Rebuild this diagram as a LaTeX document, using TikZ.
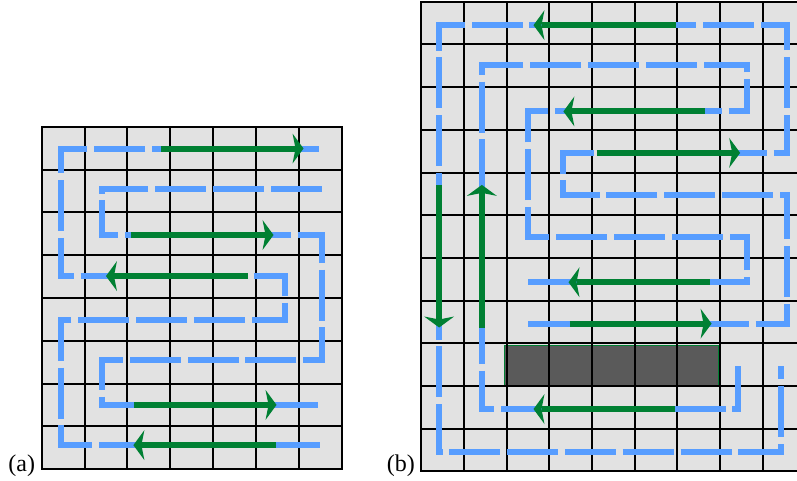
\documentclass[tikz,border=0pt]{standalone}
\usepackage{fontspec}
\setmainfont{Liberation Serif}
\usetikzlibrary{arrows.meta}
\definecolor{cellgray}{RGB}{226,226,226}
\definecolor{pathblue}{RGB}{87,157,255}
\definecolor{arrowgreen}{RGB}{0,128,51}
\definecolor{blockgray}{RGB}{90,90,90}
\tikzset{
  gridline/.style={line width=2pt, black},
  bluepath/.style={pathblue, line width=6pt, dash pattern=on 51pt off 6.8pt, line join=miter},
  greenarrow/.style={arrowgreen, line width=6pt, -{Stealth[length=11pt, width=30pt, inset=3pt, line width=0pt]}},
  captiontext/.style={font=\fontsize{24}{28}\selectfont, anchor=base west, inner sep=0pt}
}
\begin{document}
\begin{tikzpicture}[x=1pt,y=-1pt]
\useasboundingbox (0,0) rectangle (797,480);
\clip (0,0) rectangle (797,480);
\fill[white] (0,0) rectangle (797,480);

% ---------- (a) ----------
\begin{scope}[shift={(41.7,126.7)}, x=42.85pt, y=-42.8pt]
  \fill[cellgray] (0,0) rectangle (7,8);
  \foreach \i in {1,...,6} \draw[gridline] (\i,0) -- (\i,8);
  \foreach \j in {1,...,7} \draw[gridline] (0,\j) -- (7,\j);
  \draw[gridline] (0,0) rectangle (7,8);
  \draw[bluepath] (6.46,0.51) -- (0.45,0.51) -- (0.45,3.49) -- (5.68,3.49) -- (5.68,4.52) -- (0.45,4.52) -- (0.45,7.44) -- (6.49,7.44);
  \draw[bluepath] (6.53,1.455) -- (1.40,1.455) -- (1.40,2.53) -- (6.53,2.53) -- (6.53,5.45) -- (1.40,5.45) -- (1.40,6.50) -- (6.49,6.50);
  \draw[greenarrow] (2.78,0.51) -- (6.11,0.51);
  \draw[greenarrow] (2.08,2.53) -- (5.41,2.53);
  \draw[greenarrow] (4.82,3.49) -- (1.50,3.49);
  \draw[greenarrow] (2.16,6.50) -- (5.48,6.50);
  \draw[greenarrow] (5.47,7.44) -- (2.14,7.44);
\end{scope}

% ---------- (b) ----------
\begin{scope}[shift={(421.2,1.7)}, x=42.7pt, y=-42.7pt]
  \fill[cellgray] (0,0) rectangle (9,11);
  \filldraw[fill=blockgray, draw=arrowgreen, line width=0.6pt] (1.95,8.04) rectangle (6.96,8.99);
  \foreach \i in {1,...,9} \draw[gridline] (\i,0) -- (\i,11);
  \foreach \j in {1,...,10} \draw[gridline] (0,\j) -- (9,\j);
  \draw[gridline] (0,0) rectangle (9,11);
  \draw[bluepath, dash phase=4pt] (2.51,7.54) -- (8.56,7.54) -- (8.56,4.53) -- (3.33,4.53) -- (3.33,3.54) -- (8.56,3.54) -- (8.56,0.55) -- (0.42,0.55) -- (0.42,10.54) -- (8.43,10.54) -- (8.43,8.53);
  \draw[bluepath] (2.51,6.57) -- (7.64,6.57) -- (7.64,5.51) -- (2.51,5.51) -- (2.51,2.57) -- (7.64,2.57) -- (7.64,1.49) -- (1.42,1.49) -- (1.42,9.54) -- (7.43,9.54) -- (7.43,8.53);
  \draw[greenarrow] (5.97,0.55) -- (2.63,0.55);
  \draw[greenarrow] (6.65,2.57) -- (3.33,2.57);
  \draw[greenarrow] (4.11,3.54) -- (7.47,3.54);
  \draw[greenarrow] (6.76,6.57) -- (3.45,6.57);
  \draw[greenarrow] (3.48,7.54) -- (6.80,7.54);
  \draw[greenarrow] (5.94,9.54) -- (2.63,9.54);
  \draw[greenarrow] (0.42,4.29) -- (0.42,7.63);
  \draw[greenarrow] (1.42,7.63) -- (1.42,4.29);
\end{scope}

\node[captiontext] (labela) at (8.3,471) {(a)};
\node[captiontext] (labelb) at (386.7,471) {(b)};
\end{tikzpicture}
\end{document}
